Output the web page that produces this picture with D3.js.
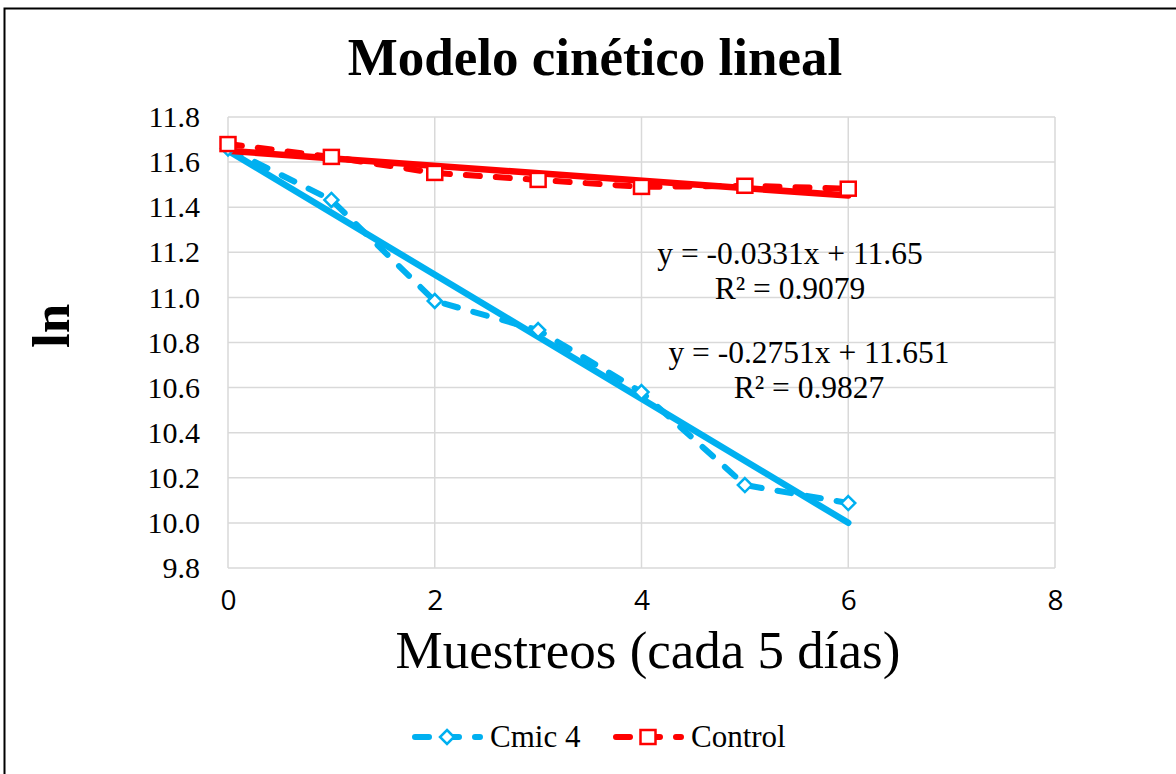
<!DOCTYPE html>
<html>
<head>
<meta charset="utf-8">
<script src="https://cdn.jsdelivr.net/npm/d3@7"></script>
<style>
  body { margin: 0; background: #fff; }
  svg { display: block; }
  .ytick text { font-family: "Liberation Serif", "DejaVu Serif", serif !important; font-size: 30px; }
  .xtick text { font-family: "Open Sans", "Liberation Sans", sans-serif !important; font-size: 28px; }
</style>
</head>
<body>
<svg id="chart" width="1176" height="774"></svg>
<script>
// data
const muestreos = [0, 1, 2, 3, 4, 5, 6];
const cmic4 = [11.66, 11.432, 10.984, 10.855, 10.58, 10.168, 10.088];
const control = [11.68, 11.623, 11.552, 11.521, 11.49, 11.495, 11.482];

// linear trendlines shown on the chart
const trendCmic = { slope: -0.2751, intercept: 11.651 };
const trendControl = { slope: -0.0331, intercept: 11.65 };
const eqCmic = ['y = -0.2751x + 11.651', 'R² = 0.9827'];
const eqControl = ['y = -0.0331x + 11.65', 'R² = 0.9079'];

const xTicks = [0, 2, 4, 6, 8];
const yTicks = [9.8, 10.0, 10.2, 10.4, 10.6, 10.8, 11.0, 11.2, 11.4, 11.6, 11.8];

const BLUE = '#00b0f0';
const RED = '#ff0000';
const SERIF = '"Liberation Serif", "DejaVu Serif", serif';

const svg = d3.select('#chart');

const x = d3.scaleLinear().domain([0, 8]).range([228, 1055]);
const y = d3.scaleLinear().domain([9.8, 11.8]).range([568, 117]);

// outer frame
svg.append('rect')
    .attr('x', 4.5).attr('y', 8.5)
    .attr('width', 1200).attr('height', 800)
    .attr('fill', 'none')
    .attr('stroke', '#000')
    .attr('stroke-width', 2);

// gridlines
const grid = svg.append('g');
grid.selectAll('line.h')
    .data(yTicks)
    .enter().append('line')
    .attr('class', 'h')
    .attr('x1', x(0)).attr('x2', x(8))
    .attr('y1', d => y(d)).attr('y2', d => y(d))
    .attr('stroke', '#d9d9d9').attr('stroke-width', 1.5);
grid.selectAll('line.v')
    .data(xTicks)
    .enter().append('line')
    .attr('class', 'v')
    .attr('y1', y(9.8)).attr('y2', y(11.8))
    .attr('x1', d => x(d)).attr('x2', d => x(d))
    .attr('stroke', '#d9d9d9').attr('stroke-width', 1.5);

// axes (labels only, no domain lines)
const yAxis = svg.append('g')
    .attr('class', 'ytick')
    .attr('transform', `translate(${x(0)},0)`)
    .call(d3.axisLeft(y).tickValues(yTicks).tickFormat(d3.format('.1f')).tickSize(0).tickPadding(28));
yAxis.select('.domain').remove();
yAxis.attr('font-family', SERIF).attr('font-size', 30);
yAxis.selectAll('text').attr('fill', '#000');

const xAxis = svg.append('g')
    .attr('class', 'xtick')
    .attr('transform', `translate(0,${y(9.8)})`)
    .call(d3.axisBottom(x).tickValues(xTicks).tickFormat(d3.format('d')).tickSize(0).tickPadding(22));
xAxis.select('.domain').remove();
xAxis.attr('font-family', null).attr('font-size', 28);
xAxis.selectAll('text').attr('fill', '#000');

// series lines (dashed)
const line = d3.line()
    .x((d, i) => x(muestreos[i]))
    .y(d => y(d));

const seriesList = [
    { name: 'Cmic 4', values: cmic4, color: BLUE, trend: trendCmic, marker: 'diamond' },
    { name: 'Control', values: control, color: RED, trend: trendControl, marker: 'square' }
];

seriesList.forEach(s => {
    svg.append('path')
        .datum(s.values)
        .attr('d', line)
        .attr('fill', 'none')
        .attr('stroke', s.color)
        .attr('stroke-width', 6)
        .attr('stroke-linecap', 'round')
        .attr('stroke-dasharray', '14,16');
});

// trendlines
seriesList.forEach(s => {
    const x0 = d3.min(muestreos), x1 = d3.max(muestreos);
    svg.append('line')
        .attr('x1', x(x0)).attr('y1', y(s.trend.intercept + s.trend.slope * x0))
        .attr('x2', x(x1)).attr('y2', y(s.trend.intercept + s.trend.slope * x1))
        .attr('stroke', s.color)
        .attr('stroke-width', 6.5)
        .attr('stroke-linecap', 'round');
});

function drawMarker(g, type, color) {
    if (type === 'diamond') {
        g.append('path')
            .attr('d', 'M0,-7L7,0L0,7L-7,0Z')
            .attr('fill', '#fff')
            .attr('stroke', color)
            .attr('stroke-width', 2.5);
    } else {
        g.append('rect')
            .attr('x', -7.5).attr('y', -7)
            .attr('width', 15).attr('height', 14)
            .attr('fill', '#fff')
            .attr('stroke', color)
            .attr('stroke-width', 2.5);
    }
}

// markers
seriesList.forEach(s => {
    s.values.forEach((v, i) => {
        const g = svg.append('g').attr('transform', `translate(${x(muestreos[i])},${y(v)})`);
        drawMarker(g, s.marker, s.color);
    });
});

// trendline equations
const eqs = [
    { lines: eqControl, cx: 790, y0: 264 },
    { lines: eqCmic, cx: 809, y0: 363 }
];
eqs.forEach(e => {
    e.lines.forEach((t, i) => {
        svg.append('text')
            .attr('x', e.cx).attr('y', e.y0 + i * 35)
            .attr('text-anchor', 'middle')
            .style('font-family', SERIF)
            .style('font-size', '31.5px')
            .text(t);
    });
});

// titles
svg.append('text')
    .attr('x', 595).attr('y', 75)
    .attr('text-anchor', 'middle')
    .style('font-family', SERIF)
    .style('font-size', '53px')
    .style('font-weight', 'bold')
    .text('Modelo cinético lineal');

svg.append('text')
    .attr('transform', 'translate(69,326) rotate(-90)')
    .attr('text-anchor', 'middle')
    .style('font-family', SERIF)
    .style('font-size', '53px')
    .style('font-weight', 'bold')
    .text('ln');

svg.append('text')
    .attr('x', 648).attr('y', 668)
    .attr('text-anchor', 'middle')
    .style('font-family', SERIF)
    .style('font-size', '53px')
    .text('Muestreos (cada 5 días)');

// legend
const legendItems = [
    { s: seriesList[0], x0: 415 },
    { s: seriesList[1], x0: 616 }
];
legendItems.forEach(item => {
    const g = svg.append('g').attr('transform', `translate(${item.x0},737)`);
    g.append('line')
        .attr('x1', 0).attr('x2', 65)
        .attr('y1', 0).attr('y2', 0)
        .attr('stroke', item.s.color)
        .attr('stroke-width', 6)
        .attr('stroke-linecap', 'round')
        .attr('stroke-dasharray', '14,16');
    const m = g.append('g').attr('transform', 'translate(32,0)');
    drawMarker(m, item.s.marker, item.s.color);
    g.append('text')
        .attr('x', 75).attr('y', 10)
        .style('font-family', SERIF)
        .style('font-size', '31px')
        .text(item.s.name);
});
</script>
</body>
</html>
